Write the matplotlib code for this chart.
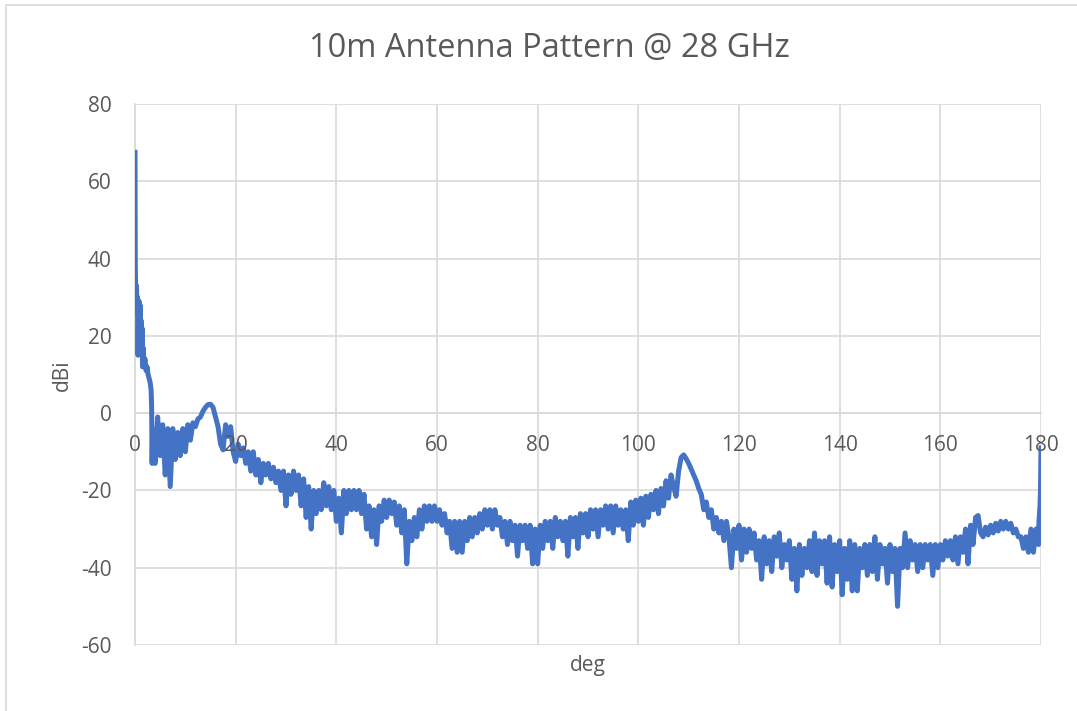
import numpy as np
import matplotlib
matplotlib.use('Agg')
import matplotlib.pyplot as plt
from matplotlib.patches import Rectangle
from matplotlib.transforms import offset_copy

# main beam, sampled finer
deg_head = [0.0, 0.05, 0.1, 0.2, 0.3, 0.4, 0.5, 0.6, 0.7, 0.8, 0.9, 1.0, 1.1,
            1.2, 1.3, 1.4, 1.5, 1.6, 1.8, 2.0, 2.2, 2.4, 2.6, 2.8, 3.0, 3.2,
            3.3, 3.4]
dbi_head = [67.5, 40, 34, 27, 33, 26, 30, 15, 27, 29, 18, 28, 16,
            24, 15, 22, 12, 17, 13, 14, 11, 12, 10, 9, 8, 6,
            2, -13]

# 3.5 .. 179.5 deg, every 0.5 deg
dbi_mid = [
    -4, -13, -1, -11, -3, -16, -4, -19, -4, -12,
    -5, -11, -4, -10, -3, -7, -2.5, -3.5, -1.5, -1,
    0.5, 1.5, 2.2, 2.3, 1.5, -1, -3.5, -8, -9.5, -3,
    -6, -3.5, -10, -12.5, -8, -11, -9, -13, -10, -15,
    -10, -16, -12, -18, -13, -16, -13, -17, -14, -18,
    -15, -20, -15, -24, -16, -21, -15, -20, -16, -24,
    -17, -27, -19, -30, -20, -26, -20, -25, -18, -24,
    -19, -25, -20, -28, -22, -31, -20, -26, -20, -25,
    -20, -25, -20, -26, -21, -30, -24, -32, -25, -34,
    -24, -28, -22.5, -27, -22.5, -26, -23, -29, -24, -31,
    -25, -39, -28, -33, -27, -32, -25, -30, -24, -28,
    -24, -28, -24, -28, -25, -29, -26, -31, -28, -35,
    -28, -36, -28, -36, -28, -33, -27, -32, -27, -31,
    -26, -30, -25, -29, -25, -30, -25, -29, -27, -32,
    -28, -34, -28, -33, -29, -37, -29, -33, -29, -35,
    -29, -39, -30, -39, -29, -35, -28, -33, -28, -35,
    -27, -32, -28, -33, -28, -37, -27, -32, -27, -35,
    -26, -31, -26, -32, -25, -30, -25, -32, -25, -29,
    -24, -30, -24, -31, -24, -29, -25, -30, -25, -33,
    -23, -29, -22.5, -28, -22, -29, -21.5, -27, -21, -25,
    -20, -26, -19.5, -24, -17.5, -22, -16, -19, -21.5, -15,
    -11.5, -10.8, -11.8, -13, -14.5, -16, -17.5, -19.5, -21, -25,
    -23, -27, -25, -30, -27, -31, -28, -33, -28, -32,
    -40, -30, -35, -29, -38, -30, -36, -30, -35, -31,
    -38, -33, -43, -32, -39, -33, -41, -32, -37, -31,
    -40, -34, -38, -33, -43, -35, -46, -34, -42, -35,
    -40, -33, -41, -31, -42, -33, -39, -33, -44, -32,
    -45, -34, -41, -33, -47, -35, -43, -33, -46, -34,
    -46, -35, -40, -34, -42, -34, -41, -32, -43, -34,
    -39, -35, -44, -34, -41, -35, -50, -35, -40, -31,
    -40, -33, -38, -34, -41, -34, -40, -34, -38, -34,
    -42, -34, -40, -34, -38, -33, -37, -33, -38, -32,
    -39, -32, -36, -30, -39, -29, -34, -27, -26.5, -31,
    -32, -29.5, -31.5, -29, -31, -28.5, -30.5, -28, -30, -28,
    -30, -28.5, -31, -30, -32, -32, -35, -32, -36, -30,
    -36, -30, -34,
]
deg_mid = 3.5 + 0.5 * np.arange(len(dbi_mid))

# back lobe edge
deg_tail = [179.6, 179.7, 179.8, 179.9, 180.0]
dbi_tail = [-28, -26, -24, -20, -9]

deg = np.concatenate([deg_head, deg_mid, deg_tail])
dbi = np.concatenate([dbi_head, dbi_mid, dbi_tail])

x_ticks = [0, 20, 40, 60, 80, 100, 120, 140, 160, 180]
y_ticks = [-60, -40, -20, 0, 20, 40, 60, 80]

txt = '#595959'
grid = '#D9D9D9'
plt.rcParams['font.family'] = ['Open Sans', 'DejaVu Sans']
plt.rcParams['axes.unicode_minus'] = False

fig = plt.figure(figsize=(10.77, 7.11), dpi=100)
ax = fig.add_axes([135/1077, 1 - 645/711, (1041-135)/1077, (645-104)/711])

ax.plot(deg, dbi, color='#4472C4', lw=3.6, solid_joinstyle='round', zorder=3)

ax.set_xlim(0, 180)
ax.set_ylim(-60, 80)
ax.set_xticks(x_ticks)
ax.set_yticks(y_ticks)
ax.grid(True, color=grid, lw=1.2, zorder=0)
ax.set_axisbelow(True)

for s in ['top', 'right']:
    ax.spines[s].set_visible(False)
ax.spines['left'].set_color(grid)
ax.spines['left'].set_linewidth(1.2)
ax.spines['bottom'].set_position(('data', 0))
ax.spines['bottom'].set_color(grid)
ax.spines['bottom'].set_linewidth(1.2)

ax.tick_params(axis='x', length=0, labelbottom=False)
ax.tick_params(axis='y', length=0, pad=17, labelsize=15, labelcolor=txt)

# x labels sit on the 0 dBi line and are drawn over the trace
lab_tr = offset_copy(ax.transData, fig=fig, x=0, y=-32, units='dots')
for t in x_ticks:
    ax.text(t, 0, str(t), transform=lab_tr, ha='center', va='center',
            fontsize=15, color=txt, zorder=5, clip_on=False)

fig.text(549/1077, 1 - 48/711, '10m Antenna Pattern @ 28 GHz',
         ha='center', va='center', fontsize=23.5, color=txt)
fig.text(588/1077, 1 - 665/711, 'deg', ha='center', va='center',
         fontsize=15, color=txt)
fig.text(62/1077, 1 - 375/711, 'dBi', ha='center', va='center',
         fontsize=15, color=txt, rotation=90)

# chart area border
fig.patches.append(Rectangle((6/1077, -0.1), 1.2, 1.1 - 5/711,
                             transform=fig.transFigure, fill=False,
                             edgecolor=grid, lw=1.2))

fig.savefig('out.png', dpi=100)
